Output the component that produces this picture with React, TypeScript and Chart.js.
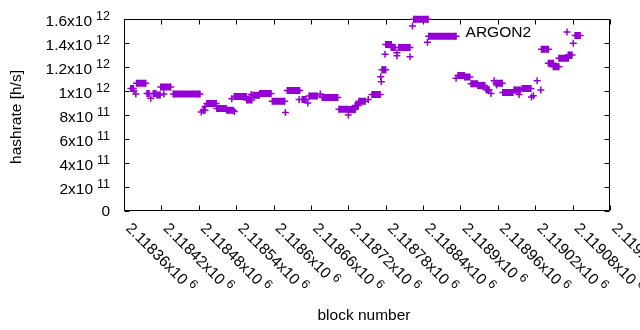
import React, { useEffect, useRef } from "react";
import { Chart, registerables } from "chart.js";

Chart.register(...registerables);

const seriesName = "ARGON2";
const seriesColor = "#9400d3";

// Runs of consecutive blocks with the same estimated hashrate (start block, end block, h/s)
const runStartBlock = [
  2118371, 2118376, 2118379, 2118380, 2118397, 2118403, 2118407, 2118413, 2118419, 2118424,
  2118439, 2118484, 2118487, 2118490, 2118493, 2118509, 2118525, 2118537, 2118533, 2118537,
  2118557, 2118564, 2118567, 2118578, 2118598, 2118619, 2118622, 2118641, 2118646, 2118655,
  2118657, 2118675, 2118678, 2118705, 2118720, 2118720, 2118731, 2118737, 2118752, 2118758,
  2118772, 2118773, 2118774, 2118779, 2118780, 2118789, 2118798, 2118798, 2118801, 2118819,
  2118823, 2118825, 2118847, 2118849, 2118893, 2118896, 2118907, 2118917, 2118928, 2118941,
  2118949, 2118954, 2118957, 2118958, 2118968, 2118986, 2118994, 2118999, 2119014, 2119017,
  2119023, 2119029, 2119030, 2119041, 2119049, 2119058, 2119073, 2119081, 2119084,
];
const runEndBlock = [
  2118375, 2118376, 2118379, 2118395, 2118400, 2118403, 2118411, 2118418, 2118435, 2118424,
  2118482, 2118484, 2118490, 2118490, 2118508, 2118524, 2118535, 2118537, 2118533, 2118556,
  2118565, 2118564, 2118577, 2118596, 2118618, 2118619, 2118642, 2118641, 2118652, 2118655,
  2118670, 2118675, 2118703, 2118718, 2118720, 2118731, 2118736, 2118747, 2118752, 2118771,
  2118772, 2118773, 2118780, 2118779, 2118789, 2118795, 2118798, 2118798, 2118819, 2118819,
  2118823, 2118848, 2118847, 2118893, 2118893, 2118906, 2118915, 2118927, 2118939, 2118946,
  2118949, 2118954, 2118967, 2118958, 2118984, 2118996, 2118994, 2119013, 2119014, 2119017,
  2119023, 2119029, 2119041, 2119049, 2119058, 2119073, 2119079, 2119081, 2119092,
];
const runHashrate = [
  1.02e12, 1.0e12, 0.975e12, 1.065e12, 0.98e12, 0.94e12, 0.98e12, 0.967e12, 1.033e12, 0.975e12,
  0.975e12, 0.825e12, 0.84e12, 0.87e12, 0.895e12, 0.855e12, 0.84e12, 0.83e12, 0.935e12, 0.955e12,
  0.925e12, 0.97e12, 0.965e12, 0.98e12, 0.915e12, 0.82e12, 1.005e12, 0.93e12, 0.93e12, 0.9e12,
  0.958e12, 0.975e12, 0.946e12, 0.847e12, 0.8e12, 0.845e12, 0.88e12, 0.915e12, 0.93e12, 0.97e12,
  1.119e12, 1.077e12, 1.178e12, 1.306e12, 1.388e12, 1.362e12, 1.319e12, 1.294e12, 1.362e12, 1.286e12,
  1.542e12, 1.597e12, 1.406e12, 1.456e12, 1.106e12, 1.13e12, 1.117e12, 1.061e12, 1.046e12, 1.01e12,
  0.98e12, 1.086e12, 1.064e12, 1.05e12, 0.988e12, 1.008e12, 0.97e12, 1.021e12, 0.95e12, 0.96e12,
  1.085e12, 1.008e12, 1.348e12, 1.231e12, 1.203e12, 1.273e12, 1.3e12, 1.397e12, 1.4625e12,
];

const xMin = 2118360;
const xMax = 2119140;
const xTickValues = [
  2118360, 2118420, 2118480, 2118540, 2118600, 2118660, 2118720,
  2118780, 2118840, 2118900, 2118960, 2119020, 2119080, 2119140,
];
const xTickMantissa = [
  "2.11836", "2.11842", "2.11848", "2.11854", "2.1186", "2.11866", "2.11872",
  "2.11878", "2.11884", "2.1189", "2.11896", "2.11902", "2.11908", "2.11914",
];
const xTickExponent = ["6", "6", "6", "6", "6", "6", "6", "6", "6", "6", "6", "6", "6", "6"];

const yMin = 0;
const yMax = 1.6e12;
const yTickValues = [0, 2e11, 4e11, 6e11, 8e11, 1e12, 1.2e12, 1.4e12, 1.6e12];
const yTickMantissa = ["0", "2", "4", "6", "8", "1", "1.2", "1.4", "1.6"];
const yTickExponent = ["", "11", "11", "11", "11", "12", "12", "12", "12"];

const xTitle = "block number";
const yTitle = "hashrate [h/s]";

const FONT = '"Liberation Sans", Arial, Helvetica, sans-serif';

const gnuplotFrame = {
  id: "gnuplotFrame",
  beforeDatasetsDraw(chart: any) {
    const { ctx, chartArea } = chart;
    const xs = chart.scales.x;
    const ys = chart.scales.y;
    const l = Math.round(chartArea.left) + 0.5;
    const r = Math.round(chartArea.right) - 0.5;
    const t = Math.round(chartArea.top) + 0.5;
    const b = Math.round(chartArea.bottom) - 0.5;
    ctx.save();
    ctx.strokeStyle = "#000";
    ctx.lineWidth = 1;
    ctx.beginPath();
    ctx.rect(l, t, r - l, b - t);
    const tl = 5;
    xTickValues.forEach((v) => {
      const px = Math.round(xs.getPixelForValue(v)) + 0.5;
      ctx.moveTo(px, b);
      ctx.lineTo(px, b - tl);
      ctx.moveTo(px, t);
      ctx.lineTo(px, t + tl);
    });
    yTickValues.forEach((v) => {
      const py = Math.round(ys.getPixelForValue(v)) + 0.5;
      ctx.moveTo(l, py);
      ctx.lineTo(l + tl, py);
      ctx.moveTo(r, py);
      ctx.lineTo(r - tl, py);
    });
    ctx.stroke();
    ctx.restore();
  },
  afterDraw(chart: any) {
    const { ctx, chartArea } = chart;
    const xs = chart.scales.x;
    const ys = chart.scales.y;
    ctx.save();
    ctx.fillStyle = "#000";
    const mainFont = `15.5px ${FONT}`;
    const supFont = `12.5px ${FONT}`;

    // y tick labels
    yTickValues.forEach((v, i) => {
      const py = ys.getPixelForValue(v);
      const right = chartArea.left - 14;
      if (yTickExponent[i]) {
        ctx.font = supFont;
        const sw = ctx.measureText(yTickExponent[i]).width;
        ctx.textAlign = "left";
        ctx.textBaseline = "alphabetic";
        ctx.fillText(yTickExponent[i], right - sw, py + 1);
        ctx.font = mainFont;
        ctx.textAlign = "right";
        ctx.fillText(yTickMantissa[i] + "x10", right - sw - 4, py + 6.5);
      } else {
        ctx.font = mainFont;
        ctx.textAlign = "right";
        ctx.textBaseline = "alphabetic";
        ctx.fillText(yTickMantissa[i], right, py + 5);
      }
    });

    // x tick labels (rotated)
    xTickValues.forEach((v, i) => {
      const px = xs.getPixelForValue(v);
      ctx.save();
      ctx.translate(px + 1, chartArea.bottom + 18);
      ctx.rotate(Math.PI / 4);
      ctx.font = mainFont;
      ctx.textAlign = "left";
      ctx.textBaseline = "alphabetic";
      const main = xTickMantissa[i] + "x10";
      ctx.fillText(main, 0, 0);
      const w = ctx.measureText(main).width;
      ctx.font = supFont;
      ctx.fillText(xTickExponent[i], w + 4, -5.5);
      ctx.restore();
    });

    // axis titles
    ctx.font = mainFont;
    ctx.textAlign = "center";
    ctx.textBaseline = "alphabetic";
    ctx.fillText(xTitle, (chartArea.left + chartArea.right) / 2 - 3, 320);
    ctx.save();
    ctx.translate(21, 117);
    ctx.rotate(-Math.PI / 2);
    ctx.fillText(yTitle, 0, 0);
    ctx.restore();

    // key
    ctx.textAlign = "right";
    ctx.fillText(seriesName, 531, 37);
    ctx.strokeStyle = seriesColor;
    ctx.lineWidth = 1.5;
    ctx.beginPath();
    ctx.moveTo(563.5, 32);
    ctx.lineTo(570.5, 32);
    ctx.moveTo(567, 28.5);
    ctx.lineTo(567, 35.5);
    ctx.stroke();
    ctx.restore();
  },
};

export default function App() {
  const ref = useRef<HTMLCanvasElement | null>(null);

  useEffect(() => {
    if (!ref.current) return;
    const runData: any[] = [];
    const pointData: any[] = [];
    runStartBlock.forEach((s, i) => {
      runData.push({ x: s, y: runHashrate[i] });
      runData.push({ x: runEndBlock[i], y: runHashrate[i] });
      runData.push({ x: runEndBlock[i], y: null });
      pointData.push({ x: s, y: runHashrate[i] });
      if (runEndBlock[i] !== s) pointData.push({ x: runEndBlock[i], y: runHashrate[i] });
    });

    const chart = new Chart(ref.current, {
      type: "scatter",
      data: {
        datasets: [
          {
            label: seriesName + " runs",
            data: runData,
            showLine: true,
            spanGaps: false,
            borderColor: seriesColor,
            backgroundColor: seriesColor,
            borderWidth: 7,
            borderCapStyle: "butt",
            pointRadius: 0,
            clip: false,
          } as any,
          {
            label: seriesName,
            data: pointData,
            showLine: false,
            pointStyle: "cross",
            pointRadius: 3.5,
            pointBorderWidth: 1.5,
            borderColor: seriesColor,
            backgroundColor: seriesColor,
            clip: false,
          } as any,
        ],
      },
      options: {
        animation: false,
        responsive: false,
        devicePixelRatio: 1,
        events: [],
        layout: { padding: { left: 124, right: 30, top: 19, bottom: 119 } },
        plugins: { legend: { display: false }, tooltip: { enabled: false } },
        scales: {
          x: { type: "linear", min: xMin, max: xMax, display: false },
          y: { type: "linear", min: yMin, max: yMax, display: false },
        },
      },
      plugins: [gnuplotFrame],
    });
    return () => chart.destroy();
  }, []);

  return (
    <div style={{ position: "absolute", left: 0, top: 0, width: 640, height: 330, background: "#fff" }}>
      <canvas ref={ref} width={640} height={330} style={{ display: "block" }} />
    </div>
  );
}
